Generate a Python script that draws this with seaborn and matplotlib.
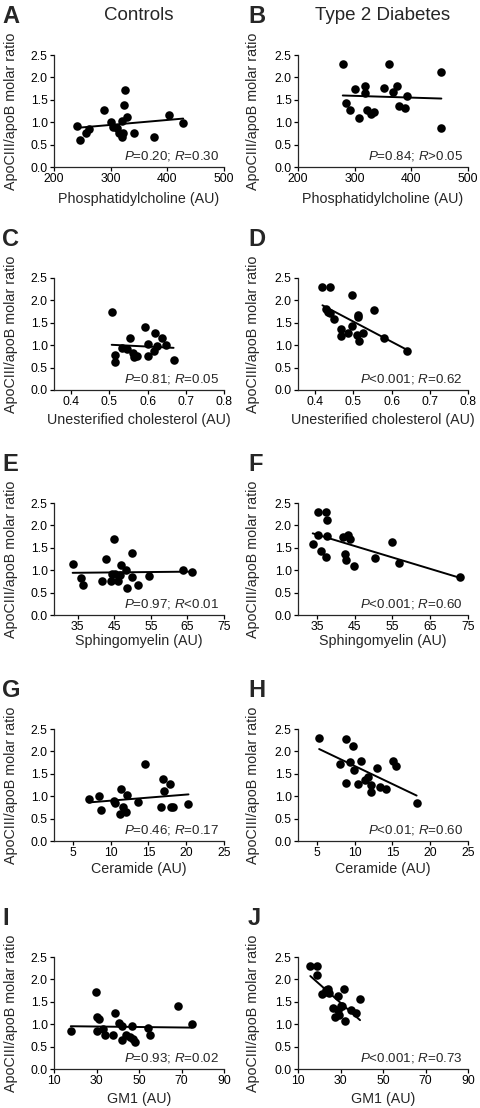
import matplotlib
matplotlib.use("Agg")
import matplotlib.pyplot as plt
import seaborn as sns

# ---- data ----
col_titles = ["Controls", "Type 2 Diabetes"]
letters = ["A", "B", "C", "D", "E", "F", "G", "H", "I", "J"]
y_label = "ApoCIII/apoB molar ratio"
x_labels = ["Phosphatidylcholine (AU)", "Unesterified cholesterol (AU)",
            "Sphingomyelin (AU)", "Ceramide (AU)", "GM1 (AU)"]
stats = ["$P$=0.20; $R$=0.30", "$P$=0.84; $R$>0.05",
         "$P$=0.81; $R$=0.05", "$P$<0.001; $R$=0.62",
         "$P$=0.97; $R$<0.01", "$P$<0.001; $R$=0.60",
         "$P$=0.46; $R$=0.17", "$P$<0.01; $R$=0.60",
         "$P$=0.93; $R$=0.02", "$P$<0.001; $R$=0.73"]

# A: phosphatidylcholine, controls
pc_ctrl_x = [241, 245, 256, 262, 288, 301, 304, 311, 314, 321, 320, 323, 320, 328, 325, 341, 376, 403, 428]
pc_ctrl_y = [0.91, 0.61, 0.75, 0.84, 1.27, 1.01, 0.90, 0.88, 0.77, 0.76, 0.66, 1.38, 1.03, 1.12, 1.71, 0.77, 0.68, 1.16, 0.98]
# B: phosphatidylcholine, T2D
pc_t2d_x = [279, 284, 291, 301, 308, 319, 319, 321, 329, 334, 352, 360, 367, 374, 378, 389, 392, 452, 453]
pc_t2d_y = [2.31, 1.43, 1.27, 1.73, 1.10, 1.81, 1.66, 1.28, 1.19, 1.23, 1.77, 2.31, 1.68, 1.81, 1.36, 1.31, 1.58, 2.13, 0.86]
# C: unesterified cholesterol, controls
uc_ctrl_x = [0.506, 0.514, 0.514, 0.533, 0.553, 0.545, 0.563, 0.565, 0.573, 0.592, 0.601, 0.601, 0.616, 0.620, 0.624, 0.639, 0.647, 0.668]
uc_ctrl_y = [1.73, 0.78, 0.63, 0.93, 1.16, 0.91, 0.82, 0.73, 0.75, 1.40, 1.03, 0.75, 0.88, 1.27, 0.99, 1.16, 1.01, 0.66]
# D: unesterified cholesterol, T2D
uc_t2d_x = [0.419, 0.439, 0.429, 0.434, 0.440, 0.449, 0.467, 0.467, 0.487, 0.496, 0.497, 0.513, 0.513, 0.515, 0.524, 0.510, 0.553, 0.581, 0.640]
uc_t2d_y = [2.31, 2.29, 1.81, 1.75, 1.72, 1.58, 1.36, 1.21, 1.28, 1.42, 2.13, 1.68, 1.63, 1.10, 1.27, 1.23, 1.79, 1.16, 0.86]
# E: sphingomyelin, controls
sm_ctrl_x = [33.6, 35.8, 36.3, 41.5, 42.8, 44.9, 44.4, 44.0, 45.2, 46.0, 46.5, 46.8, 48.3, 48.6, 49.7, 49.8, 51.4, 54.4, 63.7, 66.2]
sm_ctrl_y = [1.14, 0.82, 0.67, 0.76, 1.25, 1.70, 0.91, 0.76, 0.91, 0.76, 0.90, 1.12, 1.01, 0.60, 1.38, 0.84, 0.66, 0.88, 1.01, 0.97]
# F: sphingomyelin, T2D
sm_t2d_x = [33.9, 35.3, 35.3, 36.2, 37.3, 37.5, 37.7, 37.7, 42.0, 42.4, 42.7, 43.3, 43.8, 44.9, 50.3, 55.0, 56.8, 72.9]
sm_t2d_y = [1.58, 2.31, 1.79, 1.42, 1.29, 2.29, 2.11, 1.76, 1.73, 1.36, 1.22, 1.79, 1.69, 1.09, 1.27, 1.64, 1.16, 0.85]
# G: ceramide, controls
cer_ctrl_x = [7.1, 8.4, 8.7, 10.4, 10.6, 11.2, 11.4, 11.6, 12.0, 12.1, 13.6, 14.5, 16.6, 16.9, 17.0, 17.8, 18.0, 18.3, 20.3]
cer_ctrl_y = [0.93, 1.00, 0.69, 0.89, 0.84, 0.61, 1.15, 0.76, 0.65, 1.02, 0.88, 1.72, 0.76, 1.39, 1.12, 1.27, 0.75, 0.76, 0.82]
# H: ceramide, T2D
cer_t2d_x = [5.3, 8.0, 8.9, 8.9, 9.4, 9.8, 9.9, 10.4, 10.8, 11.4, 11.8, 12.1, 12.2, 12.9, 13.4, 14.1, 15.1, 15.5, 18.2]
cer_t2d_y = [2.30, 1.72, 2.28, 1.29, 1.76, 2.11, 1.58, 1.27, 1.78, 1.36, 1.42, 1.26, 1.09, 1.64, 1.21, 1.16, 1.79, 1.68, 0.85]
# I: GM1, controls
gm1_ctrl_x = [17.9, 29.7, 30.3, 31.1, 30.3, 33.1, 33.9, 37.8, 38.6, 40.5, 41.8, 41.8, 43.8, 45.7, 46.9, 47.3, 48.0, 54.3, 55.1, 68.2, 74.8]
gm1_ctrl_y = [0.84, 1.72, 1.16, 1.11, 0.84, 0.90, 0.76, 0.76, 1.26, 1.02, 0.95, 0.65, 0.76, 0.72, 0.97, 0.66, 0.61, 0.91, 0.76, 1.40, 1.01]
# J: GM1, T2D
gm1_t2d_x = [15.8, 18.9, 18.9, 21.4, 23.0, 24.0, 23.6, 24.5, 28.7, 26.7, 27.2, 28.7, 30.0, 30.7, 31.5, 32.0, 35.0, 37.3, 39.2, 29.5]
gm1_t2d_y = [2.31, 2.29, 2.10, 1.68, 1.77, 1.78, 1.71, 1.69, 1.63, 1.36, 1.16, 1.31, 1.40, 1.41, 1.78, 1.08, 1.31, 1.25, 1.57, 1.21]

panel_x = [pc_ctrl_x, pc_t2d_x, uc_ctrl_x, uc_t2d_x, sm_ctrl_x, sm_t2d_x,
           cer_ctrl_x, cer_t2d_x, gm1_ctrl_x, gm1_t2d_x]
panel_y = [pc_ctrl_y, pc_t2d_y, uc_ctrl_y, uc_t2d_y, sm_ctrl_y, sm_t2d_y,
           cer_ctrl_y, cer_t2d_y, gm1_ctrl_y, gm1_t2d_y]

x_limits = [(200, 500), (200, 500), (0.355, 0.8), (0.355, 0.8), (28.5, 75), (30, 75),
            (2.5, 25), (2.5, 25), (10, 90), (10, 90)]
x_ticks = [[200, 300, 400, 500], [0.4, 0.5, 0.6, 0.7, 0.8], [35, 45, 55, 65, 75],
           [5, 10, 15, 20, 25], [10, 30, 50, 70, 90]]
x_ticklabels = [["200", "300", "400", "500"], ["0.4", "0.5", "0.6", "0.7", "0.8"],
                ["35", "45", "55", "65", "75"], ["5", "10", "15", "20", "25"],
                ["10", "30", "50", "70", "90"]]
y_ticks = [0.0, 0.5, 1.0, 1.5, 2.0, 2.5]
y_ticklabels = ["0.0", "0.5", "1.0", "1.5", "2.0", "2.5"]

# ---- style ----
sns.set_style("ticks")
plt.rcParams["font.family"] = ["Liberation Sans", "DejaVu Sans"]
plt.rcParams["mathtext.fontset"] = "custom"
plt.rcParams["mathtext.rm"] = "Liberation Sans"
plt.rcParams["mathtext.it"] = "Liberation Sans:italic"
plt.rcParams["axes.linewidth"] = 0.9
plt.rcParams["xtick.major.width"] = 0.9
plt.rcParams["ytick.major.width"] = 0.9
plt.rcParams["xtick.major.size"] = 3
plt.rcParams["ytick.major.size"] = 3

W, H = 480, 1108
fig = plt.figure(figsize=(W / 100, H / 100), dpi=100)

col_left = [54, 298]
row_top = [55, 278, 503, 729, 957]
xlabel_gap = [32, 30, 26, 28, 30]   # px from x axis to centre of x label
ax_w, ax_h = 170, 112

for i in range(10):
    row, col = divmod(i, 2)
    l, t = col_left[col], row_top[row]
    ax = fig.add_axes([l / W, 1 - (t + ax_h) / H, ax_w / W, ax_h / H])
    sns.regplot(x=panel_x[i], y=panel_y[i], ci=None, ax=ax, color="black",
                scatter_kws={"s": 38, "alpha": 1, "linewidths": 0},
                line_kws={"lw": 1.4})
    ax.set_xlim(*x_limits[i])
    ax.set_ylim(0, 2.5)
    ax.set_xticks(x_ticks[row])
    ax.set_xticklabels(x_ticklabels[row], fontsize=8.8)
    ax.set_yticks(y_ticks)
    ax.set_yticklabels(y_ticklabels, fontsize=8.8)
    ax.tick_params(pad=1.5, colors="black")
    sns.despine(ax=ax)
    ax.set_xlabel(x_labels[row], fontsize=10.3, va="center")
    ax.set_ylabel(y_label, fontsize=10.3)
    ax.xaxis.set_label_coords(0.5, -xlabel_gap[row] / ax_h)
    ax.yaxis.set_label_coords(-36 / ax_w if col == 0 else -38 / ax_w, 0.5)
    ax.text(0.97, 0.1, stats[i], transform=ax.transAxes, ha="right",
            va="center", fontsize=9.6)
    # panel letter
    fig.text((2 if col == 0 else 248) / W, 1 - (t - 50) / H, letters[i],
             fontsize=17, fontweight="bold", ha="left", va="top")
    if row == 0:
        fig.text((l + ax_w / 2) / W, 1 - 15 / H, col_titles[col],
                 fontsize=13.5, ha="center", va="center")

fig.savefig("out.png", dpi=100)
